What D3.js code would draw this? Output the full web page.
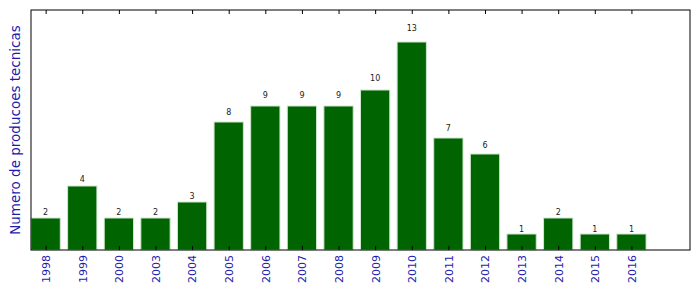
<!DOCTYPE html>
<html>
<head>
<meta charset="utf-8">
<script src="https://cdn.jsdelivr.net/npm/d3@7"></script>
<style>
  body { margin: 0; background: #fff; }
  svg { display: block; font-family: "DejaVu Sans", sans-serif; }
</style>
</head>
<body>
<figure id="bars" style="margin:0"></figure>
<script>
const years = ["1998", "1999", "2000", "2003", "2004", "2005", "2006", "2007", "2008",
  "2009", "2010", "2011", "2012", "2013", "2014", "2015", "2016"];
const counts = [2, 4, 2, 2, 3, 8, 9, 9, 9, 10, 13, 7, 6, 1, 2, 1, 1];
const yMax = 15;

const W = 699, H = 292;
const margin = { top: 10, right: 9, bottom: 42, left: 31 };
const width = W - margin.left - margin.right;
const height = H - margin.top - margin.bottom;

const svg = d3.select("figure#bars")
  .append("svg")
  .attr("width", W)
  .attr("height", H);

const g = svg.append("g")
  .attr("transform", "translate(" + margin.left + "," + margin.top + ")");

// x in bar-index units, bars 0.8 wide centred on the tick
const x = d3.scaleLinear()
  .domain([-0.4, years.length + 0.6])
  .range([0, width]);

const y = d3.scaleLinear()
  .domain([0, yMax])
  .range([height, 0]);

const idx = d3.range(years.length);

// bars
g.selectAll("rect.bar")
  .data(idx)
  .enter()
  .append("rect")
  .attr("class", "bar")
  .attr("x", i => x(i - 0.4))
  .attr("width", x(0.8) - x(0))
  .attr("y", i => y(counts[i]))
  .attr("height", i => y(0) - y(counts[i]))
  .style("fill", "#006400")
  .style("stroke", "#cfe6cf")
  .style("stroke-width", 1);

// value labels
g.selectAll("text.val")
  .data(idx)
  .enter()
  .append("text")
  .attr("class", "val")
  .attr("x", i => x(i))
  .attr("y", i => y(counts[i] * 1.05) - 1)
  .attr("text-anchor", "middle")
  .style("font-size", "8px")
  .style("fill", "#222")
  .text(i => counts[i]);

// bottom axis: ticks pointing inward, rotated blue labels
const xBottom = g.append("g")
  .attr("transform", "translate(0," + height + ")")
  .call(d3.axisBottom(x).tickValues(idx).tickSize(-4).tickFormat(i => years[i]));
xBottom.select(".domain").remove();
xBottom.attr("font-family", null).attr("font-size", null);
xBottom.selectAll(".tick line").attr("stroke", "#000");
xBottom.selectAll(".tick text")
  .attr("transform", "rotate(-90)")
  .attr("text-anchor", "end")
  .attr("x", -5)
  .attr("y", 0)
  .attr("dy", "0.35em")
  .style("font-family", "'DejaVu Sans', sans-serif")
  .style("font-size", "11px")
  .style("fill", "#1c1cad");

// top axis ticks
const xTop = g.append("g")
  .call(d3.axisTop(x).tickValues(idx).tickSize(-4).tickFormat(""));
xTop.select(".domain").remove();
xTop.selectAll(".tick line").attr("stroke", "#000");

// frame
g.append("rect")
  .attr("width", width)
  .attr("height", height)
  .style("fill", "none")
  .style("stroke", "#000")
  .style("stroke-width", 1);

// y label
svg.append("text")
  .attr("transform", "translate(20," + (margin.top + height / 2) + ") rotate(-90)")
  .attr("text-anchor", "middle")
  .style("font-size", "13.5px")
  .style("fill", "#1c1cad")
  .text("Numero de producoes tecnicas");
</script>
</body>
</html>
